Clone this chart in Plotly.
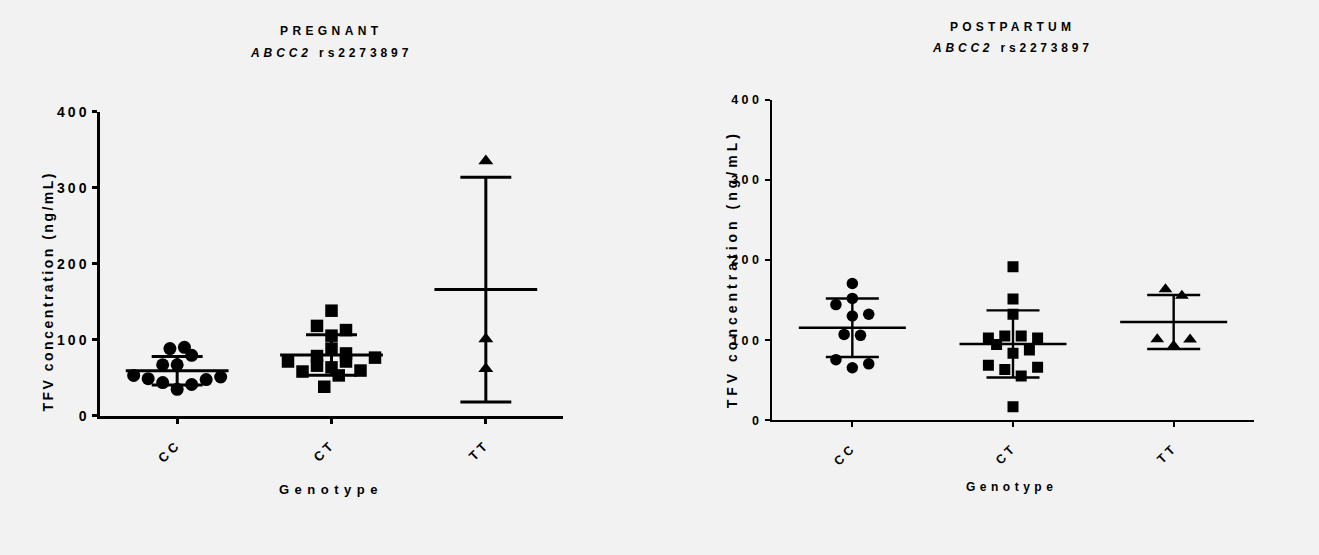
import numpy as np
import plotly.graph_objects as go

# ---- data (listed in table order) -------------------------------------
genotypes = ["CC", "CT", "TT"]

pregnant_cc = [34.9, 41.3, 43.8, 47.7, 48.9, 51.1, 53.2, 67.2, 79.6, 67.2, 90.2, 88.5]
pregnant_ct = [53.2, 38.3, 63.8, 71.5, 66.0, 59.6, 58.3, 76.6, 71.5, 88.5, 82.1, 78.7,
               105.5, 112.8, 118.3, 138.3]
pregnant_tt = [62.0, 101.0, 335.0]

postpartum_cc = [65.5, 70.4, 75.6, 106.0, 107.2, 130.2, 132.3, 144.4, 152.1, 170.7]
postpartum_ct = [17.0, 55.4, 63.5, 66.3, 68.8, 83.7, 87.8, 94.6, 105.2, 105.2, 102.7, 102.7,
                 132.3, 151.3, 191.7]
postpartum_tt = [93.0, 100.7, 101.1, 155.3, 163.4]

y_ticks = [0, 100, 200, 300, 400]

FONT = "Arial, Liberation Sans, sans-serif"
BG = "#f2f2f2"
W, H = 1319, 555


def spaced(text, px):
    return f'<span style="letter-spacing:{px}px">{text}</span>'


def row_offsets(values, row_px, slot_px, px_per_unit, px_per_cat):
    """Scatter-dot layout: values closer than one row height share a row;
    the points of a row are spread symmetrically about the category centre,
    taken in table order."""
    vals = np.asarray(values, dtype=float)
    order = np.argsort(vals, kind="stable")
    offsets = np.zeros(len(vals))
    k = 0
    while k < len(order):
        start = vals[order[k]]
        row = []
        while k < len(order) and (vals[order[k]] - start) * px_per_unit <= row_px:
            row.append(int(order[k]))
            k += 1
        row.sort()
        n = len(row)
        for j, idx in enumerate(row):
            if n % 2:
                slot = ((j + 1) // 2) * (1 if j % 2 else -1)
            else:
                slot = (j // 2 + 0.5) * (1 if j % 2 == 0 else -1)
            offsets[idx] = slot * slot_px / px_per_cat
    return offsets


# pixel geometry of the two panels: (x0, x1, y_top, y_bottom)
panels = {
    "left": dict(px=(100, 563, 106.7, 420), axis=("x", "y"),
                 groups=[pregnant_cc, pregnant_ct, pregnant_tt],
                 msize=[13, 12.5, 13], lw=3.0, axw=2.5, row_px=14.8, slot_px=14.5),
    "right": dict(px=(772, 1254, 94.5, 424.5), axis=("x2", "y2"),
                  groups=[postpartum_cc, postpartum_ct, postpartum_tt],
                  msize=[11.5, 11, 12], lw=2.4, axw=2.0, row_px=14.0, slot_px=16.4),
}
symbols = ["circle", "square", "triangle-up"]

fig = go.Figure()

for name, p in panels.items():
    x0, x1, yt, yb = p["px"]
    px_per_cat = (x1 - x0) / 3.0
    px_per_unit = (yb - yt) / 400.0
    xa, ya = p["axis"]
    lx, ly = [], []
    for gi, vals in enumerate(p["groups"]):
        offs = row_offsets(vals, p["row_px"], p["slot_px"], px_per_unit, px_per_cat)
        fig.add_trace(go.Scatter(
            x=gi + offs, y=vals, mode="markers", xaxis=xa, yaxis=ya,
            marker=dict(symbol=symbols[gi], size=p["msize"][gi], color="black",
                        line=dict(width=0)),
            showlegend=False, hoverinfo="y"))
        m = float(np.mean(vals))
        s = float(np.std(vals, ddof=1))
        # mean line, SD whisker and caps
        lx += [gi - 0.333, gi + 0.333, None,
               gi, gi, None,
               gi - 0.165, gi + 0.165, None,
               gi - 0.165, gi + 0.165, None]
        ly += [m, m, None,
               m - s, m + s, None,
               m + s, m + s, None,
               m - s, m - s, None]
    fig.add_trace(go.Scatter(x=lx, y=ly, mode="lines", xaxis=xa, yaxis=ya,
                             line=dict(color="black", width=p["lw"]),
                             showlegend=False, hoverinfo="skip"))

left = panels["left"]["px"]
right = panels["right"]["px"]


def dom_x(a, b):
    return [a / W, b / W]


def dom_y(top, bottom):
    return [(H - bottom) / H, (H - top) / H]


def yaxis_cfg(px, axw, fs, sp, anchor):
    return dict(domain=dom_y(px[2], px[3]), range=[0, 400], tickvals=y_ticks,
                ticktext=[spaced(str(t), sp) for t in y_ticks],
                showline=True, linecolor="black", linewidth=axw,
                ticks="outside", ticklen=5, tickwidth=axw, tickcolor="black",
                showgrid=False, zeroline=False, anchor=anchor,
                tickfont=dict(family=FONT, size=fs, color="black", weight="bold"))


def xaxis_cfg(px, axw, fs, sp, anchor):
    return dict(domain=dom_x(px[0], px[1]), range=[-0.5, 2.5], tickvals=[0, 1, 2],
                ticktext=[spaced(g, sp) for g in genotypes], tickangle=-45,
                showline=True, linecolor="black", linewidth=axw,
                ticks="outside", ticklen=5, tickwidth=axw, tickcolor="black",
                ticklabelstandoff=8,
                showgrid=False, zeroline=False, anchor=anchor,
                tickfont=dict(family=FONT, size=fs, color="black", weight="bold"))


fig.update_layout(
    width=W, height=H, paper_bgcolor=BG, plot_bgcolor=BG,
    margin=dict(l=0, r=0, t=0, b=0),
    font=dict(family=FONT, color="black"),
    xaxis=xaxis_cfg(left, 2.5, 13, 3.5, "y"),
    yaxis=yaxis_cfg(left, 2.5, 14, 3.0, "x"),
    xaxis2=xaxis_cfg(right, 2.0, 12.5, 3.5, "y2"),
    yaxis2=yaxis_cfg(right, 2.0, 12.5, 3.5, "x2"),
)


def add_text(text, x, y, size, angle=0):
    fig.add_annotation(text=text, x=x / W, y=(H - y) / H, xref="paper", yref="paper",
                       showarrow=False, textangle=angle, xanchor="center", yanchor="middle",
                       font=dict(family=FONT, size=size, color="black", weight="bold"))


# panel titles
add_text(spaced("PREGNANT", 4.4), 331, 24, 12)
add_text(spaced("<i>ABCC2</i> rs2273897", 3.9), 331, 46, 12)
add_text(spaced("POSTPARTUM", 4.2), 1012, 20, 12)
add_text(spaced("<i>ABCC2</i> rs2273897", 3.8), 1012, 41, 12)

# axis titles
add_text(spaced("TFV concentration (ng/mL)", 2.5), 48, 292, 14, -90)
add_text(spaced("TFV concentration (ng/mL)", 4.0), 732, 269, 14, -90)
add_text(spaced("Genotype", 5.5), 331, 496, 13)
add_text(spaced("Genotype", 4.5), 1011, 493, 12)

fig.write_html("out.html")
